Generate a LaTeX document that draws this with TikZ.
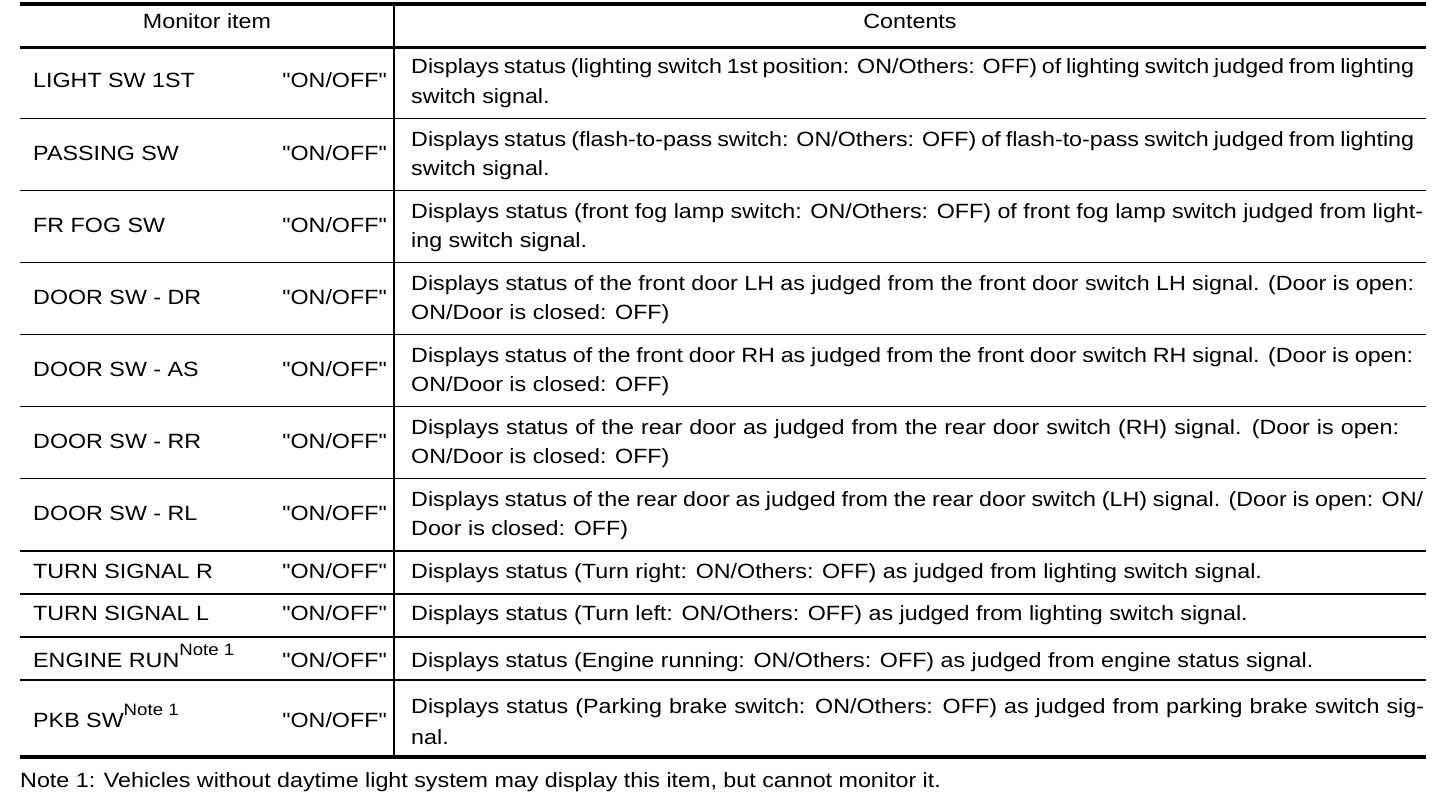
\documentclass[tikz,border=0pt]{standalone}
\usepackage{fontspec}
\usepackage{graphicx}
\setmainfont{Liberation Sans}[FakeStretch=1.13, Ligatures=TeXOff]
\newcommand{\notesup}{\raisebox{11.5pt}{\fontsize{16.5}{16.5}\selectfont Note 1}}
\newcommand{\jl}[2]{\makebox[#1pt][s]{#2}}
\begin{document}
\begin{tikzpicture}[x=1pt,y=-1pt,
  txt/.style={anchor=base west, inner sep=0pt, font=\fontsize{20.6}{24}\selectfont},
  onoff/.style={anchor=base east, inner sep=0pt, font=\fontsize{20.6}{24}\selectfont},
  hdr/.style={anchor=base, inner sep=0pt, font=\fontsize{20.6}{24}\selectfont},
  thickrule/.style={line width=4pt},
  headrule/.style={line width=2.6pt},
  rowrule/.style={line width=1.6pt}]
\useasboundingbox (0,0) rectangle (1456,800);
% rules
\draw[thickrule] (20,4) -- (1426,4);
\draw[headrule] (20,47.5) -- (1426,47.5);
\foreach \yy in {118.5,190.5,262.5,334.5,406.5,478.5,551,594,637,680}
  \draw[rowrule] (20,\yy) -- (1426,\yy);
\draw[thickrule] (20,757) -- (1426,757);
\draw[rowrule] (394,4) -- (394,757);
% header
\node[hdr] (h1) at (207,29) {Monitor item};
\node[hdr] (h2) at (910,29) {Contents};
% row 1
\node[txt] (i1) at (33,88) {LIGHT SW 1ST};
\node[onoff] (o1) at (387,88) {"ON/OFF"};
\node[txt] (c1a) at (411,74) {\jl{1003}{Displays status (lighting switch 1st position: ON/Others: OFF) of lighting switch judged from lighting}};
\node[txt] (c1b) at (411,103) {switch signal.};
% row 2
\node[txt] (i2) at (33,160) {PASSING SW};
\node[onoff] (o2) at (387,160) {"ON/OFF"};
\node[txt] (c2a) at (411,146) {\jl{1003}{Displays status (flash-to-pass switch: ON/Others: OFF) of flash-to-pass switch judged from lighting}};
\node[txt] (c2b) at (411,175) {switch signal.};
% row 3
\node[txt] (i3) at (33,232) {FR FOG SW};
\node[onoff] (o3) at (387,232) {"ON/OFF"};
\node[txt] (c3a) at (411,218) {\jl{1012}{Displays status (front fog lamp switch: ON/Others: OFF) of front fog lamp switch judged from light-}};
\node[txt] (c3b) at (411,247) {ing switch signal.};
% row 4
\node[txt] (i4) at (33,304) {DOOR SW - DR};
\node[onoff] (o4) at (387,304) {"ON/OFF"};
\node[txt] (c4a) at (411,290) {\jl{1003}{Displays status of the front door LH as judged from the front door switch LH signal. (Door is open:}};
\node[txt] (c4b) at (411,319) {ON/Door is closed: OFF)};
% row 5
\node[txt] (i5) at (33,376) {DOOR SW - AS};
\node[onoff] (o5) at (387,376) {"ON/OFF"};
\node[txt] (c5a) at (411,362) {\jl{1002}{Displays status of the front door RH as judged from the front door switch RH signal. (Door is open:}};
\node[txt] (c5b) at (411,391) {ON/Door is closed: OFF)};
% row 6
\node[txt] (i6) at (33,448) {DOOR SW - RR};
\node[onoff] (o6) at (387,448) {"ON/OFF"};
\node[txt] (c6a) at (411,434) {\jl{988}{Displays status of the rear door as judged from the rear door switch (RH) signal. (Door is open:}};
\node[txt] (c6b) at (411,463) {ON/Door is closed: OFF)};
% row 7
\node[txt] (i7) at (33,520) {DOOR SW - RL};
\node[onoff] (o7) at (387,520) {"ON/OFF"};
\node[txt] (c7a) at (411,506) {\jl{1012}{Displays status of the rear door as judged from the rear door switch (LH) signal. (Door is open: ON/}};
\node[txt] (c7b) at (411,535) {Door is closed: OFF)};
% row 8
\node[txt] (i8) at (33,578) {TURN SIGNAL R};
\node[onoff] (o8) at (387,578) {"ON/OFF"};
\node[txt] (c8) at (411,578) {Displays status (Turn right: ON/Others: OFF) as judged from lighting switch signal.};
% row 9
\node[txt] (i9) at (33,620) {TURN SIGNAL L};
\node[onoff] (o9) at (387,620) {"ON/OFF"};
\node[txt] (c9) at (411,620) {Displays status (Turn left: ON/Others: OFF) as judged from lighting switch signal.};
% row 10
\node[txt] (i10) at (33,667) {ENGINE RUN\notesup};
\node[onoff] (o10) at (387,667) {"ON/OFF"};
\node[txt] (c10) at (411,667) {Displays status (Engine running: ON/Others: OFF) as judged from engine status signal.};
% row 11
\node[txt] (i11) at (33,727) {PKB SW\notesup};
\node[onoff] (o11) at (387,727) {"ON/OFF"};
\node[txt] (c11a) at (411,713) {\jl{1013}{Displays status (Parking brake switch: ON/Others: OFF) as judged from parking brake switch sig-}};
\node[txt] (c11b) at (411,744) {nal.};
% note
\node[txt] (note) at (20,787) {Note 1: Vehicles without daytime light system may display this item, but cannot monitor it.};
\end{tikzpicture}
\end{document}
